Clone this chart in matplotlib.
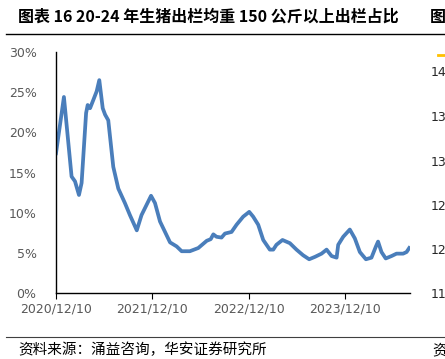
import matplotlib
matplotlib.use('Agg')
import matplotlib.pyplot as plt
import matplotlib.dates as mdates
from matplotlib.ticker import FuncFormatter
import pandas as pd

plt.rcParams['font.family'] = ['Noto Sans CJK SC', 'DejaVu Sans']

# 出栏均重150公斤以上占比（%）
dates = [
    '2020-12-10', '2021-01-09', '2021-02-07', '2021-02-20', '2021-03-07', '2021-03-17',
    '2021-04-03', '2021-04-09', '2021-04-18', '2021-04-30', '2021-05-13', '2021-05-23',
    '2021-06-05', '2021-06-14', '2021-06-26', '2021-07-15', '2021-08-03', '2021-08-28',
    '2021-09-16', '2021-10-12', '2021-10-30', '2021-12-05', '2021-12-20', '2022-01-08',
    '2022-01-27', '2022-02-15', '2022-03-12', '2022-03-31', '2022-05-01', '2022-06-02',
    '2022-07-04', '2022-07-19', '2022-07-29', '2022-08-10', '2022-08-29', '2022-09-11',
    '2022-10-06', '2022-10-25', '2022-11-19', '2022-12-12', '2022-12-27', '2023-01-15',
    '2023-02-03', '2023-02-28', '2023-03-13', '2023-03-25', '2023-04-17', '2023-05-15',
    '2023-06-09', '2023-07-04', '2023-07-27', '2023-08-18', '2023-09-12', '2023-10-01',
    '2023-10-20', '2023-11-08', '2023-11-14', '2023-12-03', '2023-12-28', '2024-01-16',
    '2024-02-04', '2024-02-27', '2024-03-19', '2024-04-05', '2024-04-13', '2024-04-26',
    '2024-05-12', '2024-06-03', '2024-06-22', '2024-07-17', '2024-07-30', '2024-08-09',
]
share = [
    17.4, 24.4, 14.5, 13.9, 12.2, 13.7,
    22.4, 23.4, 23.0, 24.0, 25.1, 26.5,
    23.0, 22.2, 21.5, 15.7, 13.0, 11.2,
    9.7, 7.8, 9.7, 12.1, 11.2, 8.9,
    7.6, 6.3, 5.8, 5.2, 5.2, 5.6,
    6.5, 6.7, 7.3, 7.0, 6.9, 7.4,
    7.6, 8.5, 9.5, 10.1, 9.5, 8.5,
    6.6, 5.4, 5.4, 6.0, 6.6, 6.2,
    5.4, 4.7, 4.2, 4.5, 4.9, 5.4,
    4.6, 4.4, 6.0, 7.0, 7.9, 6.8,
    5.1, 4.2, 4.4, 5.8, 6.4, 5.1,
    4.3, 4.6, 4.9, 4.9, 5.1, 5.6,
]
tick_dates = ['2020-12-10', '2021-12-10', '2022-12-10', '2023-12-10']
title = '图表 16 20-24 年生猪出栏均重 150 公斤以上出栏占比'
source = '资料来源：涌益咨询，华安证券研究所'

x = pd.to_datetime(dates)

fig = plt.figure(figsize=(4.45, 3.59), dpi=100)
ax = fig.add_axes([56 / 445, 1 - 293 / 359, 354 / 445, 241 / 359])

ax.plot(x, share, color='#4A7EBB', linewidth=2.7, solid_joinstyle='round')

ax.set_ylim(0, 30)
ax.set_yticks([0, 5, 10, 15, 20, 25, 30])
ax.yaxis.set_major_formatter(FuncFormatter(lambda v, p: f'{v:.0f}%'))
ax.set_xlim(pd.Timestamp('2020-12-10'), pd.Timestamp('2024-08-12'))
ax.set_xticks(pd.to_datetime(tick_dates))
ax.xaxis.set_major_formatter(mdates.DateFormatter('%Y/%m/%d'))

for s in ['top', 'right']:
    ax.spines[s].set_visible(False)
for s in ['left', 'bottom']:
    ax.spines[s].set_color('black')
    ax.spines[s].set_linewidth(1.0)

ax.tick_params(axis='y', length=0, pad=14, labelsize=9, labelcolor='#595959')
ax.tick_params(axis='x', length=4, direction='out', pad=3, labelsize=9, labelcolor='#595959')
for lbl in ax.get_xticklabels() + ax.get_yticklabels():
    lbl.set_fontfamily('DejaVu Sans')

# 标题与分隔线
fig.text(18 / 445, 1 - 17 / 359, title, fontsize=11.5, fontweight='bold', va='center', ha='left')
fig.text(430 / 445, 1 - 17 / 359, '图', fontsize=11.5, fontweight='bold', va='center', ha='left')
fig.add_artist(plt.Line2D([6 / 445, 1], [1 - 34 / 359] * 2, color='black', linewidth=1.0))
fig.add_artist(plt.Line2D([6 / 445, 1], [1 - 337 / 359] * 2, color='#404040', linewidth=0.8))
fig.text(18 / 445, 1 - 350 / 359, source, fontsize=10.5, va='center', ha='left')
fig.text(432 / 445, 1 - 350 / 359, '资', fontsize=10.5, va='center', ha='left')

# 右侧相邻图表的截断部分
right_labels = ['14', '13', '13', '12', '12', '11']
right_y = [73, 118, 162, 206, 250, 295]
for t, yy in zip(right_labels, right_y):
    fig.text(431 / 445, 1 - yy / 359, t, fontsize=9, va='center', ha='left', color='#262626',
             family='DejaVu Sans')
fig.add_artist(plt.Line2D([438 / 445, 1], [1 - 55 / 359] * 2, color='#FFC000', linewidth=2))

fig.savefig('out.png', dpi=100)
